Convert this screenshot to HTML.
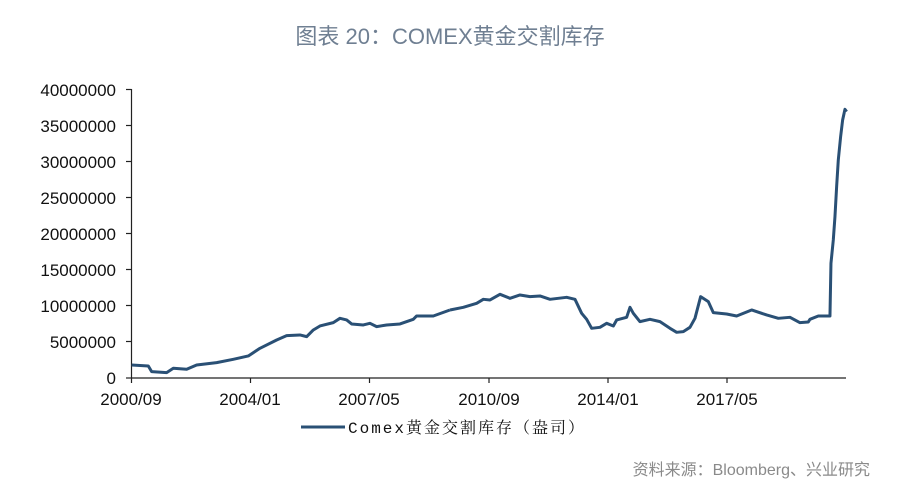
<!DOCTYPE html>
<html><head><meta charset="utf-8"><style>
html,body{margin:0;padding:0;background:#fff;width:900px;height:503px;overflow:hidden}
svg{display:block}
</style></head><body>
<svg width="900" height="503" xmlns="http://www.w3.org/2000/svg">
<text x="450" y="44" text-anchor="middle" font-family="Liberation Sans, Noto Sans CJK SC, sans-serif" font-size="22" fill="#6f7f92">图表 20：COMEX黄金交割库存</text>
<g font-family="Liberation Sans, sans-serif" font-size="17" fill="#111" text-anchor="end">
<text x="116" y="96">40000000</text><text x="116" y="132">35000000</text><text x="116" y="168">30000000</text><text x="116" y="204">25000000</text><text x="116" y="240">20000000</text><text x="116" y="276">15000000</text><text x="116" y="312">10000000</text><text x="116" y="348">5000000</text><text x="116" y="384">0</text>
</g>
<g stroke="#222" stroke-width="1.2">
<line x1="131.5" y1="89" x2="131.5" y2="378"/>
<line x1="131.5" y1="378" x2="846" y2="378"/>
<line x1="126" y1="89.5" x2="131.5" y2="89.5"/><line x1="126" y1="125.5" x2="131.5" y2="125.5"/><line x1="126" y1="161.5" x2="131.5" y2="161.5"/><line x1="126" y1="197.5" x2="131.5" y2="197.5"/><line x1="126" y1="233.5" x2="131.5" y2="233.5"/><line x1="126" y1="269.5" x2="131.5" y2="269.5"/><line x1="126" y1="305.5" x2="131.5" y2="305.5"/><line x1="126" y1="341.5" x2="131.5" y2="341.5"/><line x1="126" y1="378" x2="131.5" y2="378"/>
<line x1="131.5" y1="378" x2="131.5" y2="383"/><line x1="250.5" y1="378" x2="250.5" y2="383"/><line x1="369.5" y1="378" x2="369.5" y2="383"/><line x1="489" y1="378" x2="489" y2="383"/><line x1="608" y1="378" x2="608" y2="383"/><line x1="727" y1="378" x2="727" y2="383"/>
</g>
<g font-family="Liberation Sans, sans-serif" font-size="17" fill="#111" text-anchor="middle">
<text x="131" y="405">2000/09</text><text x="250" y="405">2004/01</text><text x="369" y="405">2007/05</text><text x="489" y="405">2010/09</text><text x="608" y="405">2014/01</text><text x="727" y="405">2017/05</text>
</g>
<g fill="none" stroke="#2a5075" stroke-width="3" stroke-linejoin="round">
<polyline transform="translate(0,70) scale(0.3333)" vector-effect="non-scaling-stroke" points="395,885 445,888 455,905 500,908 520,895 560,898 590,885 650,878 700,868 745,858 780,835 830,810 860,797 900,795 920,800 940,780 960,768 1000,758 1020,745 1040,750 1055,762 1090,765 1110,760 1130,770 1160,765 1200,762 1240,748 1250,738 1300,738 1350,720"/>
<polyline transform="translate(450,70) scale(0.3333)" vector-effect="non-scaling-stroke" points="0,720 40,712 80,700 100,688 120,690 150,673 180,685 210,675 240,680 270,678 300,688 350,682 375,688 395,730 410,748 425,775 450,772 470,760 490,768 500,750 530,742 540,712 550,730 570,755 600,748 630,755 660,775 680,787 700,785 720,772 735,745 752,680 775,695 790,728 830,732 860,738 905,720 950,735 985,745 1020,742 1050,758 1075,756 1080,748 1105,738 1140,738 1143,580 1150,510 1155,440 1160,350 1165,270 1172,200 1178,150 1185,118 1190,125"/>
</g>
<line x1="301" y1="427" x2="345" y2="427" stroke="#2a5075" stroke-width="3"/>
<text x="348" y="433" font-family="Liberation Mono, Noto Serif CJK SC, monospace" font-size="16" letter-spacing="2" fill="#111">Comex黄金交割库存（盎司）</text>
<text x="870" y="475" text-anchor="end" font-family="Liberation Sans, Noto Sans CJK SC, sans-serif" font-size="16" fill="#8a8a8a">资料来源：Bloomberg、兴业研究</text>
</svg>
</body></html>
